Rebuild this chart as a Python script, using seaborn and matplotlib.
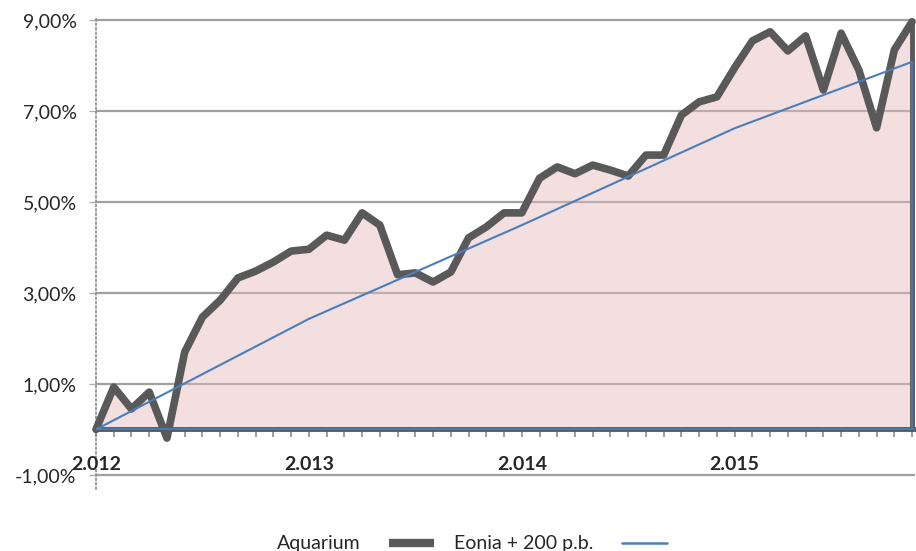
import numpy as np
import pandas as pd
import matplotlib
matplotlib.use('Agg')
import matplotlib.pyplot as plt
import seaborn as sns
from matplotlib.lines import Line2D

# monthly returns (%), Jan 2012 -> end 2015
aquarium = [0.00, 0.93, 0.45, 0.82, -0.19, 1.70, 2.47, 2.84, 3.33, 3.48,
            3.68, 3.92, 3.96, 4.27, 4.16, 4.76, 4.49, 3.40, 3.44, 3.24,
            3.46, 4.21, 4.45, 4.76, 4.76, 5.52, 5.77, 5.62, 5.81, 5.70,
            5.57, 6.03, 6.03, 6.91, 7.20, 7.31, 7.95, 8.54, 8.74, 8.32,
            8.65, 7.46, 8.71, 7.90, 6.63, 8.34, 8.96]
months = list(range(len(aquarium)))

# benchmark: only the yearly kinks are visible
eonia_months = [0, 12, 24, 36, 46]
eonia = [0.00, 2.43, 4.49, 6.62, 8.08]

years = ['2.012', '2.013', '2.014', '2.015']
year_months = [0, 12, 24, 36]
yticks = [-1, 1, 3, 5, 7, 9]

dark = '#595959'
blue = '#4a7ebb'
grey = '#a0a0a0'

sns.set_style('white')
plt.rcParams['font.family'] = ['Lato', 'DejaVu Sans']

df = pd.DataFrame({'month': months, 'aquarium': aquarium})

fig = plt.figure(figsize=(9.16, 5.51), dpi=100)
ax = fig.add_axes([0.1048, 0.1133, 0.8938, 0.8546])

# area under the fund line
ax.fill_between(df['month'], 0, df['aquarium'], color='#e6b9b8', alpha=0.45,
                lw=0, zorder=1)
sns.lineplot(data=df, x='month', y='aquarium', color=dark, lw=5.5, ax=ax,
             zorder=3, clip_on=False)
sns.lineplot(x=eonia_months, y=eonia, color=blue, lw=1.5, ax=ax, zorder=4)
ax.vlines(months[-1], 0, aquarium[-1], color=dark, lw=3.5, zorder=3)
ax.vlines(eonia_months[-1], 0, eonia[-1], color=blue, lw=1.2, zorder=4)
ax.axhline(0, color=blue, lw=1.2, zorder=5)

ax.set_xlim(0, 46.15)
ax.set_ylim(-1.3, 9.05)
ax.set_xlabel('')
ax.set_ylabel('')

ax.set_yticks(yticks)
ax.set_yticklabels([f'{v:.2f}%'.replace('.', ',') for v in yticks], fontsize=14)
ax.yaxis.grid(True, color=grey, lw=1.6)
ax.set_axisbelow(True)
ax.tick_params(axis='y', length=5, width=1, color='#b0b0b0', pad=9, left=True)

ax.set_xticks(months)
ax.set_xticklabels([])
ax.tick_params(axis='x', length=6, width=1.2, color='#8c8c8c', direction='out',
               bottom=True)
for m, lab in zip(year_months, years):
    ax.text(m, -0.78, lab, ha='center', va='center', fontsize=14,
            fontweight='bold', zorder=6)

for s in ['top', 'right']:
    ax.spines[s].set_visible(False)
ax.spines['bottom'].set_position(('data', 0))
ax.spines['bottom'].set_color(dark)
ax.spines['bottom'].set_linewidth(3.5)
ax.spines['left'].set_linestyle(':')
ax.spines['left'].set_color('#8c8c8c')
ax.spines['left'].set_linewidth(1.2)

handles = [Line2D([], [], color=dark, lw=6, solid_capstyle='butt'),
           Line2D([], [], color=blue, lw=1.8)]
fig.legend(handles, ['Aquarium', 'Eonia + 200 p.b.'], loc='center',
           bbox_to_anchor=(0.515, 0.013), ncol=2, frameon=False, fontsize=14,
           markerfirst=False, handlelength=2.3, handletextpad=1.5,
           columnspacing=1.0, borderpad=0)

fig.savefig('out.png', dpi=100)
